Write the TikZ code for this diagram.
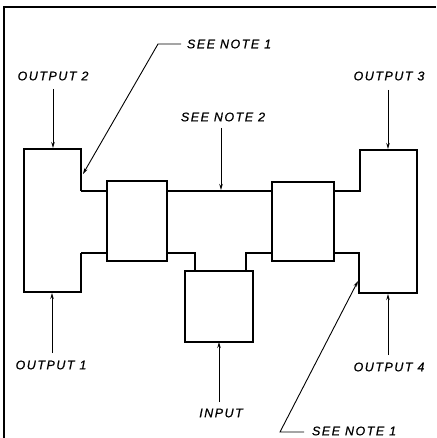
\documentclass[tikz,border=0pt]{standalone}
\usepackage{fontspec}
\newfontfamily\lblfont[LetterSpace=12,FakeBold=0.8]{Liberation Sans}
\usetikzlibrary{arrows.meta}
\begin{document}
\begin{tikzpicture}[x=1pt,y=-1pt,
  thick line/.style={line width=1.5pt,line join=miter},
  boxnode/.style={draw,line width=1.5pt,minimum width=#1,inner sep=0pt,outer sep=0pt},
  lbl/.style={font=\lblfont\itshape\fontsize{12.5}{13}\selectfont,inner sep=0pt,outer sep=0pt},
  arr/.style={line width=0.9pt,-{Stealth[length=6pt,width=3.5pt]}},
  lead/.style={line width=0.9pt}]
\useasboundingbox (0,0) rectangle (436,438);
% frame
\draw[line width=1.4pt] (4,438) -- (4,7) -- (436,7);
% boxes
\node[boxnode=60pt,minimum height=80pt] (b2) at (137,221) {};
\node[boxnode=62pt,minimum height=79pt] (b3) at (303,221.5) {};
\node[boxnode=68pt,minimum height=71pt] (bin) at (219,306.5) {};
% left block
\coordinate (lt) at (81,191);
\coordinate (lb) at (81,253);
\draw[thick line] (lt) -- (81,149) -- (24,149) -- (24,292) -- (81,292) -- (lb);
\draw[thick line] (lt) -- (lt -| b2.west);
\draw[thick line] (lb) -- (lb -| b2.west);
% channel
\draw[thick line] (b2.east |- lt) -- (b3.west |- lt);
% right block
\coordinate (rt) at (360,191);
\coordinate (rb) at (359,253);
\draw[thick line] (b3.east |- rt) -- (rt) -- (360,150) -- (417,150) -- (417,293) -- (359,293) -- (rb) -- (b3.east |- rb);
% input branch
\draw[thick line] (b3.west |- rb) -- (246,253) -- (246,271);
\draw[thick line] (195,271) -- (195,253) -- (b2.east |- rb);
% labels
\node[lbl] (o2) at (53,76) {OUTPUT 2};
\node[lbl] (o3) at (389,76) {OUTPUT 3};
\node[lbl] (o1) at (51,365) {OUTPUT 1};
\node[lbl] (o4) at (389,367) {OUTPUT 4};
\node[lbl] (in) at (221,413) {INPUT};
\node[lbl,anchor=west] (n1a) at (187,44) {SEE NOTE 1};
\node[lbl] (n2) at (223,117) {SEE NOTE 2};
\node[lbl,anchor=west] (n1b) at (312,431) {SEE NOTE 1};
% tip coordinates
\coordinate (t2) at (53,148);
\coordinate (t3) at (388,149);
\coordinate (t1) at (52,293);
\coordinate (t4) at (388,294);
\coordinate (tin) at (219,342);
\coordinate (tn2) at (221,190);
\coordinate (tn1a) at (83,174);
\coordinate (tn1b) at (358,281);
\coordinate (ka) at (158,44);
\coordinate (kb) at (280,432);
% arrows
\draw[arr] (53,89) -- (t2);
\draw[arr] (388,90) -- (t3);
\draw[arr] (52,353) -- (t1);
\draw[arr] (388,355) -- (t4);
\draw[arr] (219,402) -- (tin);
\draw[arr] (221,128) -- (tn2);
\draw[arr] ([xshift=-6pt]n1a.west) -- (ka) -- (tn1a);
\draw[arr] ([xshift=-8pt]n1b.west |- kb) -- (kb) -- (tn1b);
\end{tikzpicture}
\end{document}
